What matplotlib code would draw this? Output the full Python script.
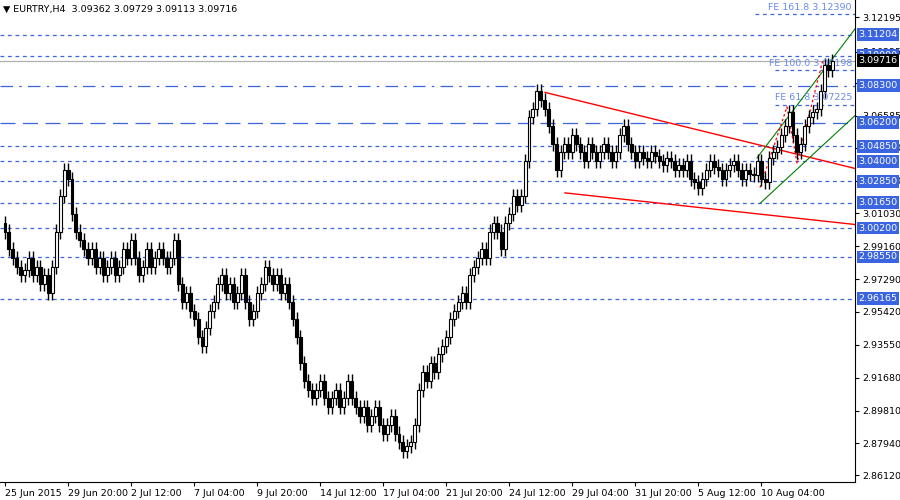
import matplotlib
matplotlib.use("Agg")
import matplotlib.pyplot as plt

closes = [
    3.000, 2.990, 2.985, 2.980, 2.975,
    2.978, 2.985, 2.975, 2.980, 2.970, 2.975, 2.965,
    2.980, 3.000, 3.020, 3.035, 3.030,
    3.010, 3.000, 2.995,
    2.990, 2.985, 2.990, 2.980, 2.985, 2.975, 2.980, 2.985, 2.975, 2.980, 2.990, 2.985, 2.995,
    2.985, 2.975, 2.980, 2.990, 2.980, 2.985, 2.990, 2.985, 2.980, 2.985, 2.995,
    2.970, 2.960, 2.965, 2.955, 2.950, 2.940, 2.935, 2.945,
    2.955, 2.960, 2.970, 2.975, 2.965, 2.970, 2.960, 2.965, 2.975,
    2.960, 2.950, 2.955, 2.965, 2.970, 2.980, 2.975, 2.970,
    2.975, 2.965, 2.970, 2.960, 2.950, 2.940, 2.925,
    2.915, 2.910, 2.905, 2.910, 2.915, 2.905, 2.900, 2.905, 2.910, 2.900, 2.905, 2.915, 2.905,
    2.900, 2.895, 2.900, 2.890, 2.895, 2.900, 2.890, 2.885, 2.890, 2.895, 2.885, 2.880,
    2.875, 2.878, 2.880, 2.890, 2.910,
    2.920, 2.915, 2.925, 2.920, 2.930, 2.935, 2.940, 2.950, 2.955, 2.960,
    2.965, 2.960, 2.975, 2.980, 2.985,
    2.990, 2.985, 3.000, 3.005, 3.000, 2.990, 3.005, 3.010,
    3.020, 3.015, 3.020,
    3.040, 3.065, 3.070, 3.080, 3.075,
    3.070, 3.060, 3.050, 3.035, 3.045,
    3.050, 3.045, 3.055, 3.050, 3.045, 3.040, 3.050, 3.045, 3.040, 3.045, 3.050, 3.045,
    3.040, 3.045, 3.055, 3.060, 3.050, 3.045, 3.040, 3.045, 3.042, 3.040, 3.045, 3.043,
    3.040, 3.038, 3.042, 3.040, 3.035, 3.038, 3.035, 3.040, 3.030, 3.028,
    3.025, 3.030, 3.035, 3.040, 3.037, 3.035, 3.030, 3.035, 3.038, 3.040, 3.035, 3.030,
    3.035, 3.033, 3.032, 3.040, 3.030, 3.028, 3.042, 3.045,
    3.048, 3.055, 3.060, 3.068, 3.055, 3.045, 3.050, 3.060, 3.065, 3.068, 3.070, 3.080,
    3.095, 3.092, 3.097,
]
opens = [3.005] + closes[:-1]
WICK = 0.004

date_labels = ["25 Jun 2015", "29 Jun 20:00", "2 Jul 12:00", "7 Jul 04:00", "9 Jul 20:00",
               "14 Jul 12:00", "17 Jul 04:00", "21 Jul 20:00", "24 Jul 12:00", "29 Jul 04:00",
               "31 Jul 20:00", "5 Aug 12:00", "10 Aug 04:00"]
price_ticks = [2.86120, 2.87940, 2.89810, 2.91680, 2.93550, 2.95420, 2.97290, 2.99160,
               3.01030, 3.02900, 3.04770, 3.06585, 3.08455, 3.10225, 3.12195]
levels = [3.11204, 3.10000, 3.08300, 3.06200, 3.04850, 3.04000, 3.02850, 3.01650,
          3.00200, 2.98550, 2.96165]
fe_levels = [(161.8, 3.12390), (100.0, 3.09198), (61.8, 3.07225)]
last_price = 3.09716

BLUE = "#3a64e0"
FS = 6.8

def ix(px):  # pixel x -> bar index
    return (px - 5) / 3.94

fig = plt.figure(figsize=(9, 5), dpi=100)
ax = fig.add_axes([0.0, 0.036, 0.95, 0.964])
ax.set_xlim(ix(0), ix(855))
ax.set_ylim(2.8574, 3.1318)

for i, (o, c) in enumerate(zip(opens, closes)):
    lo, hi = min(o, c), max(o, c)
    ax.vlines(i, lo - WICK, hi + WICK, color="black", lw=1, zorder=3)
    ax.bar(i, max(hi - lo, 0.0006), bottom=lo, width=0.75,
           color="white" if c >= o else "black", edgecolor="black", lw=0.8, zorder=4)

for lv in levels:
    ls = (0, (10, 5, 2, 5)) if lv == 3.083 else ((0, (12, 6)) if lv == 3.062 else (0, (3, 3)))
    ax.axhline(lv, color=BLUE, lw=0.9, ls=ls, zorder=1)
    ax.text(1.004, lv, f"{lv:.5f}", transform=ax.get_yaxis_transform(), va="center", ha="left",
            fontsize=FS, color="white", clip_on=False, zorder=10,
            bbox=dict(boxstyle="square,pad=0.2", fc=BLUE, ec="none"))

for lvl, p in fe_levels:
    ax.plot([ix(755 if lvl == 161.8 else 775), ix(855)], [p, p], color=BLUE, lw=0.9, ls=(0, (3, 3)))
    ax.text(ix(852), p + 0.0012, f"FE {lvl:.1f} {p:.5f}", ha="right", va="bottom",
            fontsize=FS, color="#6a8ae8")

ax.axhline(last_price, color="#b0b0b0", lw=0.9)
ax.text(1.004, last_price, f"{last_price:.5f}", transform=ax.get_yaxis_transform(), va="center",
        ha="left", fontsize=FS, color="white", clip_on=False, zorder=11,
        bbox=dict(boxstyle="square,pad=0.2", fc="black", ec="none"))

# trend lines
ax.plot([ix(545), ix(855)], [3.0792, 3.0359], color="red", lw=1)
ax.plot([ix(565), ix(855)], [3.0220, 3.0040], color="red", lw=1)
ax.plot([ix(760), ix(855)], [3.0160, 3.0660], color="green", lw=0.8)
ax.plot([ix(757), ix(855)], [3.0419, 3.1153], color="green", lw=0.8)
ax.plot([ix(760), ix(787), ix(797), ix(823)], [3.0250, 3.0710, 3.0390, 3.0980],
        color="red", lw=0.9, ls=(0, (2, 2)))

ax.set_yticks(price_ticks)
ax.set_yticklabels([f"{t:.5f}" for t in price_ticks])
ax.yaxis.tick_right()
ax.set_xticks([i * 16 for i in range(len(date_labels))])
ax.set_xticklabels(date_labels)
ax.tick_params(labelsize=FS, length=3, pad=2)
for lab in ax.get_xticklabels():
    lab.set_horizontalalignment("left")
for s in ["left", "top"]:
    ax.spines[s].set_visible(False)

fig.text(0.003, 0.99, "\u25bc EURTRY,H4  3.09362 3.09729 3.09113 3.09716", fontsize=FS,
         va="top", ha="left")
fig.savefig("out.png", dpi=100)
